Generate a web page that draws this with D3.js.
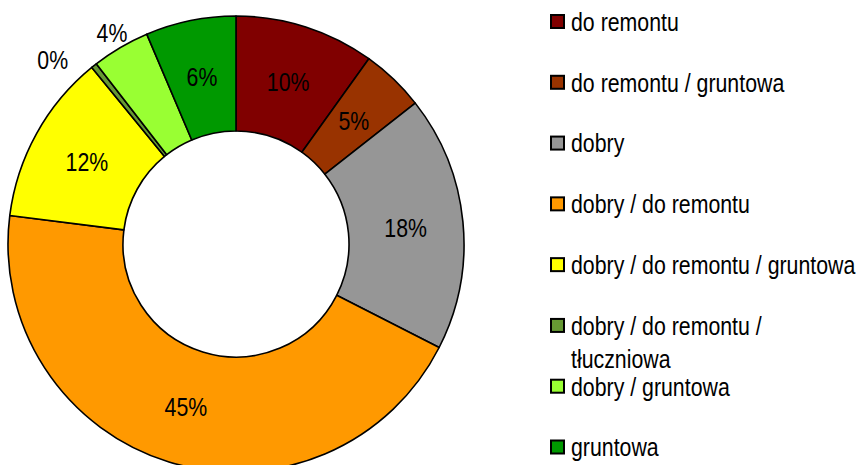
<!DOCTYPE html>
<html>
<head>
<meta charset="utf-8">
<script src="https://cdn.jsdelivr.net/npm/d3@7"></script>
<style>
  html, body { margin: 0; padding: 0; background: #fff; }
  svg { display: block; }
  text { font-family: "Liberation Sans", Arial, sans-serif; fill: #000; }
</style>
</head>
<body>
<svg width="863" height="465"></svg>
<script>
const categories = [
    "do remontu",
    "do remontu / gruntowa",
    "dobry",
    "dobry / do remontu",
    "dobry / do remontu / gruntowa",
    "dobry / do remontu / tłuczniowa",
    "dobry / gruntowa",
    "gruntowa"
];
const values = [9.9, 4.5, 18.1, 44.5, 12.1, 0.4, 4.1, 6.4];
const colors = ["#800000", "#993300", "#969696", "#FF9900", "#FFFF00", "#669933", "#99FF33", "#009900"];
// legend wraps the long entry onto two lines
const legendLines = [
    ["do remontu"],
    ["do remontu / gruntowa"],
    ["dobry"],
    ["dobry / do remontu"],
    ["dobry / do remontu / gruntowa"],
    ["dobry / do remontu /", "tłuczniowa"],
    ["dobry / gruntowa"],
    ["gruntowa"]
];

const svg = d3.select("svg");
const cx = 236, cy = 244, outerR = 228, innerR = 113;
const narrow = 0.82; // the original uses a narrow face, squeeze Liberation Sans to match

const pie = d3.pie().sort(null).value(d => d);
const arcs = pie(values);

const arc = d3.arc().innerRadius(innerR).outerRadius(outerR);
const labelArc = d3.arc().innerRadius((innerR + outerR) / 2).outerRadius((innerR + outerR) / 2);

const g = svg.append("g").attr("transform", `translate(${cx},${cy})`);

g.selectAll("path")
    .data(arcs)
    .join("path")
    .attr("d", arc)
    .attr("fill", (d, i) => colors[i])
    .attr("stroke", "#000")
    .attr("stroke-width", 1.6)
    .attr("stroke-linejoin", "round");

// labels: inside for bigger slices, outside for thin ones
const labels = arcs.map(d => {
    const [x, y] = labelArc.centroid(d);
    return { x, y, text: Math.round(d.data) + "%" };
});

// outside labels, walking backwards so a crowded one gets pushed away
let prevOutside = null;
arcs.map((d, i) => i).filter(i => Math.round(values[i]) < 5).reverse().forEach(i => {
    const d = arcs[i];
    let a = (d.startAngle + d.endAngle) / 2, r = 245;
    let px = r * Math.sin(a), py = -r * Math.cos(a);
    if (prevOutside && Math.hypot(px - prevOutside[0], py - prevOutside[1]) < 45) {
        a -= 0.11; r = 260;
        px = r * Math.sin(a); py = -r * Math.cos(a);
    }
    labels[i].x = px; labels[i].y = py;
    prevOutside = [px, py];
});

g.selectAll("g.lbl")
    .data(labels)
    .join("g")
    .attr("class", "lbl")
    .attr("transform", d => `translate(${d.x},${d.y}) scale(${narrow},1)`)
    .append("text")
    .attr("dy", "0.36em")
    .attr("text-anchor", "middle")
    .style("font-size", "26px")
    .text(d => d.text);

// legend
const legendY = d3.scaleLinear().domain([0, categories.length - 1]).range([21.5, 447]);
const item = svg.append("g").selectAll("g")
    .data(categories)
    .join("g")
    .attr("transform", (d, i) => `translate(550,${legendY(i)})`);

item.append("rect")
    .attr("x", 1)
    .attr("y", -6.5)
    .attr("width", 13)
    .attr("height", 13)
    .attr("fill", (d, i) => colors[i])
    .attr("stroke", "#000")
    .attr("stroke-width", 2);

item.append("g")
    .attr("transform", `translate(21,0) scale(${narrow},1)`)
    .append("text")
    .style("font-size", "26px")
    .selectAll("tspan")
    .data((d, i) => legendLines[i])
    .join("tspan")
    .attr("x", 0)
    .attr("dy", (d, j) => j === 0 ? "0.36em" : "33px")
    .text(d => d);
</script>
</body>
</html>
